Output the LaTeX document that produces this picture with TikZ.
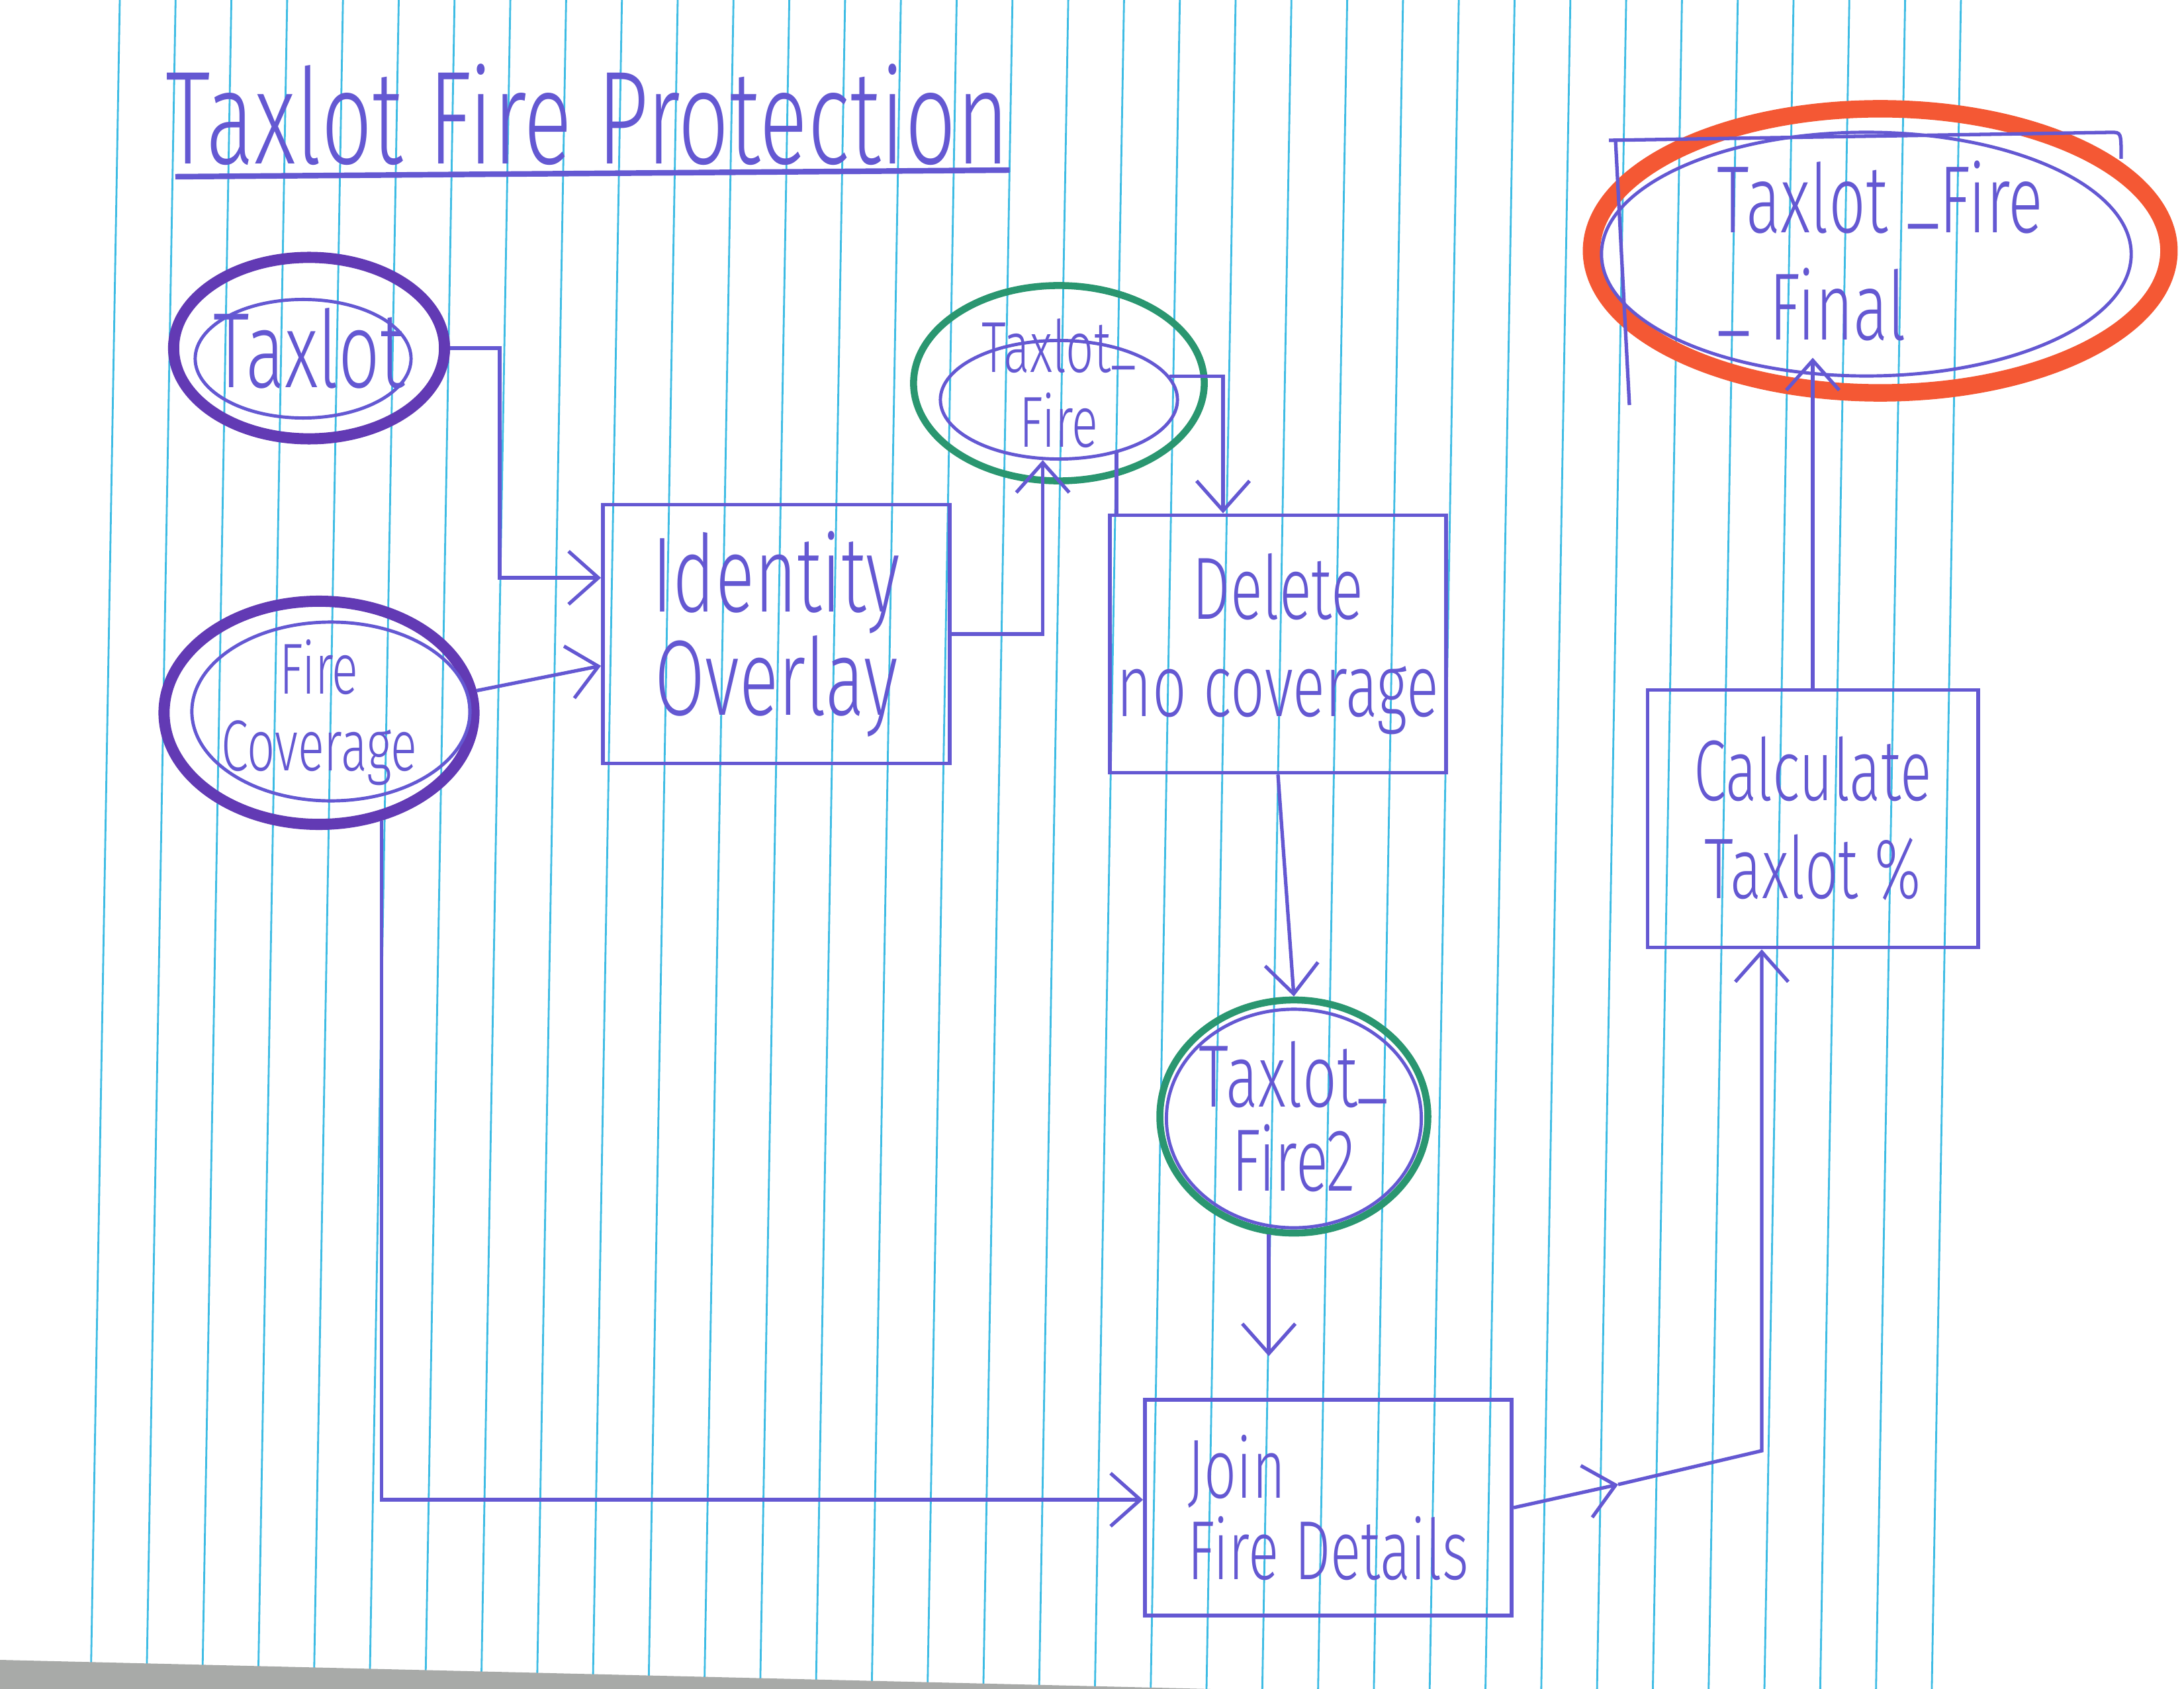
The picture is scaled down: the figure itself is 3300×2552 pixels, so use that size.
\documentclass[tikz,border=0pt]{standalone}
\usepackage{fontspec}
\usetikzlibrary{arrows.meta,positioning,shapes.geometric,calc}
\IfFontExistsTF{Fira Sans Light}
  {\newfontfamily\handfont{Fira Sans Light}[FakeStretch=0.68]}
  {\IfFontExistsTF{Lato Light}
     {\newfontfamily\handfont{Lato Light}[FakeStretch=0.7]}
     {\newfontfamily\handfont{Fira Sans}[FakeStretch=0.68]}}
\newcommand{\hand}[2]{\handfont\fontsize{#1}{#2}\selectfont}
\newcommand{\lowdash}{\raisebox{0.16em}{\_}}
\definecolor{inkblue}{RGB}{100,88,210}
\definecolor{inkpurple}{RGB}{98,58,180}
\definecolor{inkgreen}{RGB}{42,150,112}
\definecolor{inkred}{RGB}{244,88,52}
\definecolor{rulecyan}{RGB}{62,188,228}
\definecolor{scangray}{RGB}{168,170,168}

\begin{document}
\begin{tikzpicture}[x=0.01cm, y=-0.01cm,
    ink/.style={text=inkblue, inner sep=0pt, align=center},
    inkline/.style={draw=inkblue, line width=1.5pt},
    box/.style={draw=inkblue, line width=1.6pt, rectangle, inner sep=0pt, ink},
    ring/.style={draw=inkpurple, line width=4.8pt, ellipse, inner sep=0pt, ink},
    greenring/.style={draw=inkgreen, line width=3pt, ellipse, inner sep=0pt, ink},
    redring/.style={draw=inkred, line width=7.5pt, ellipse, inner sep=0pt, ink},
    thinring/.style={draw=inkblue, line width=1.4pt, ellipse, inner sep=0pt},
    flow/.style={draw=inkblue, line width=1.5pt, -{Straight Barb[length=0.45cm, width=0.8cm]}},
    rule/.style={draw=rulecyan, line width=0.8pt}]
        %paper
        \useasboundingbox (0,0) rectangle (3300,2552);
        \fill[white] (0,0) rectangle (3300,2552);
        \foreach \i in {0,...,33}
            \draw[rule] ({181+84.3*\i},0) -- ({137+84.3*\i},2552);
        \fill[scangray] (0,2508) -- (1830,2552) -- (0,2552) -- cycle;
        %title
        \node[ink, font={\hand{57pt}{64pt}}, anchor=base west] (title) at (250,248) {Taxlot Fire Protection};
        \draw[inkblue, line width=2.4pt] ($(title.base west)+(15,19)$) -- ($(title.base east)+(0,9)$);
        %nodes
        \node[ring, minimum width=3.79cm, minimum height=2.74cm, font={\hand{46pt}{46pt}}] (taxlot) at (467,526) {Taxlot};
        \node[thinring, minimum width=3.26cm, minimum height=1.79cm] (taxlot-in) at (458,542) {};
        \node[ring, minimum width=4.68cm, minimum height=3.37cm, font={\hand{31pt}{33pt}}] (cover) at (482,1077) {Fire\\Coverage};
        \node[thinring, minimum width=4.2cm, minimum height=2.7cm] (cover-in) at (500,1075) {};
        \node[box, minimum width=5.24cm, minimum height=3.91cm, font={\hand{46pt}{40pt}}] (overlay) at (1173,958) {Identity\\Overlay};
        \node[greenring, minimum width=4.39cm, minimum height=2.95cm, font={\hand{31pt}{32pt}}] (tfire) at (1600,579) {Taxlot\lowdash\\Fire};
        \node[thinring, minimum width=3.58cm, minimum height=1.79cm] (tfire-in) at (1600,604) {};
        \node[box, minimum width=5.08cm, minimum height=3.89cm, font={\hand{38pt}{42pt}}] (delete) at (1931,973) {Delete\\no coverage};
        \node[greenring, minimum width=4.04cm, minimum height=3.52cm, font={\hand{38pt}{36pt}}] (tfire2) at (1955,1687) {Taxlot\lowdash\\Fire2};
        \node[thinring, minimum width=3.85cm, minimum height=3.3cm] (tfire2-in) at (1955,1690) {};
        \node[box, minimum width=5.54cm, minimum height=3.26cm, align=left, font={\hand{36pt}{35pt}}] (join) at (2007,2278) {Join\\Fire Details};
        \node[box, minimum width=4.99cm, minimum height=3.89cm, font={\hand{37pt}{42pt}}] (calc) at (2739,1237) {Calculate\\Taxlot \%};
        \node[redring, minimum width=8.72cm, minimum height=4.29cm, align=left, font={\hand{41pt}{46pt}}] (final) at (2841,379) {Taxlot \lowdash Fire\\\lowdash\ Final};
        \node[thinring, minimum width=8cm, minimum height=3.68cm] (final-in) at (2820,384) {};
        \draw[inkline] (2462,612) -- (2441,212) (2431,212) -- (3190,200) .. controls (3205,200) .. (3205,240);
        %edges
        \draw[flow] (taxlot.east) -| ($(overlay.west)+(-153,-85)$) -- ($(overlay.west)+(0,-85)$);
        \draw[flow] (cover.8) -- ($(overlay.west)+(0,48)$);
        \draw[flow] (overlay.east) -| (tfire-in.255);
        \draw[flow] (tfire-in.12) -| ($(delete.north)+(-83,0)$);
        \draw[inkline] ($(delete.north west)+(13,0)$) -- ++(0,-95);
        \draw[flow] (delete.south) -- (tfire2.north);
        \draw[flow, shorten >=0.63cm] (tfire2.258) -- (tfire2.258 |- join.north);
        \draw[flow] (cover.300) |- ($(join.west)+(0,-12)$);
        \coordinate (jc) at (2445,2243);
        \coordinate (jbend) at (2662,2192);
        \draw[flow] (join.east) -- (jc);
        \draw[flow] (jc) -- (jbend) -- (jbend |- calc.south);
        \draw[flow] (calc.north) -- ($(calc.north |- final-in.south)+(0,-30)$);
\end{tikzpicture}
\end{document}
